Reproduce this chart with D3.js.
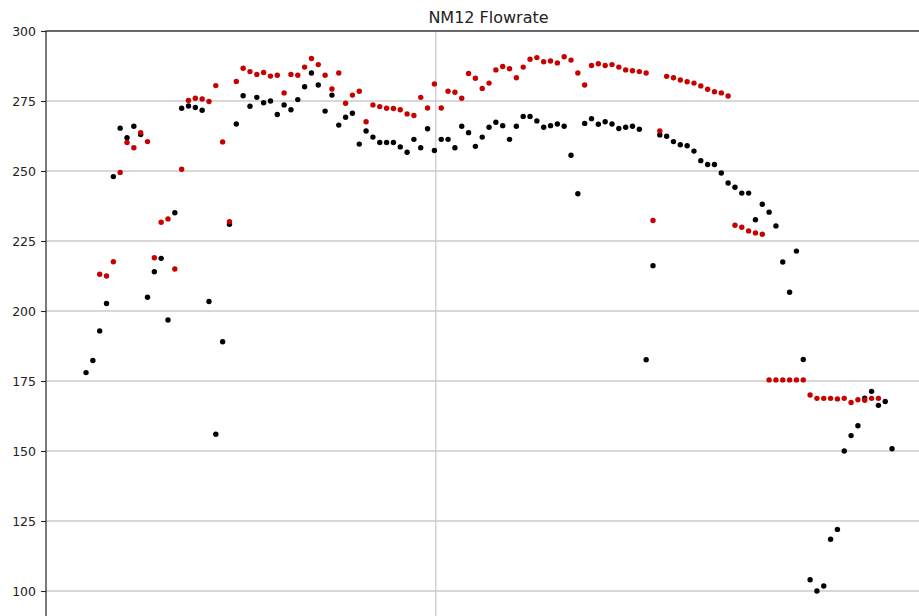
<!DOCTYPE html>
<html>
<head>
<meta charset="utf-8">
<title>NM12 Flowrate</title>
<script src="https://cdn.jsdelivr.net/npm/d3@7"></script>
<style>
    body { margin: 0; background: #fff; }
    svg { display: block; font-family: "DejaVu Sans", sans-serif; }
</style>
</head>
<body>
<div id="chart"></div>
<script>
'use strict';

// sample index of each reading (one point per step)
const samples = d3.range(119);

// black series
const flowA = [
    178.0, 182.3, 192.9, 202.7, 248.0, 265.3, 261.9, 266.0, 263.0, 204.9,
    214.0, 218.8, 196.8, 235.1, 272.4, 273.2, 272.7, 271.7, 203.4, 156.0,
    189.0, 231.0, 266.8, 276.9, 273.1, 276.3, 274.4, 275.0, 270.2, 273.6,
    271.9, 275.5, 280.1, 285.0, 280.7, 271.4, 277.1, 266.4, 269.2, 270.6,
    259.6, 264.3, 262.1, 260.2, 260.2, 260.2, 258.6, 256.7, 261.3, 258.3,
    265.1, 257.3, 261.3, 261.3, 258.3, 266.0, 263.7, 258.8, 262.1, 265.6,
    267.4, 266.2, 261.3, 266.0, 269.5, 269.5, 267.9, 265.6, 266.2, 266.8,
    266.0, 255.6, 241.9, 267.0, 268.7, 266.7, 267.6, 266.8, 265.2, 265.6,
    266.0, 264.9, 182.6, 216.2, 262.9, 262.4, 260.5, 259.4, 259.0, 257.1,
    253.7, 252.3, 252.3, 249.3, 245.7, 244.2, 242.1, 242.1, 232.6, 238.1,
    235.3, 230.4, 217.5, 206.7, 221.4, 182.7, 104.0, 100.0, 101.8, 118.5,
    122.0, 150.0, 155.5, 159.0, 168.9, 171.3, 166.3, 167.7, 150.8
];

// red series (null = no reading)
const flowB = [
    null,  null,  213.1, 212.5, 217.6, 249.5, 260.2, 258.3, 263.7, 260.5,
    219.0, 231.7, 232.9, 215.0, 250.6, 275.2, 276.0, 275.7, 274.8, 280.5,
    260.4, 231.9, 282.0, 286.7, 285.5, 284.5, 285.2, 283.9, 284.2, 277.9,
    284.5, 284.2, 287.1, 290.2, 288.0, 284.2, 279.3, 285.0, 274.2, 277.1,
    278.5, 267.6, 273.6, 273.0, 272.4, 272.3, 271.9, 270.4, 269.8, 276.3,
    272.5, 281.1, 272.5, 278.5, 278.1, 276.0, 284.8, 283.1, 279.5, 281.4,
    286.1, 287.3, 286.5, 283.3, 287.1, 289.9, 290.5, 289.0, 289.3, 288.6,
    290.8, 289.6, 285.0, 280.7, 287.7, 288.3, 287.7, 288.0, 287.1, 286.1,
    285.8, 285.5, 285.0, 232.3, 264.3, 283.8, 283.3, 282.5, 281.9, 281.4,
    280.4, 279.2, 278.3, 277.9, 276.8, 230.6, 229.9, 228.6, 227.9, 227.4,
    175.4, 175.4, 175.4, 175.4, 175.4, 175.4, 170.0, 168.8, 168.8, 168.8,
    168.6, 168.8, 167.3, 168.3, 168.1, 168.8, 168.8, null,  null
];

const yTicks = [100, 125, 150, 175, 200, 225, 250, 275, 300];
const xGridTicks = [51.2];

const width = 919;
const height = 616;

// plot box runs past the right and bottom edges of the picture
const plot = { left: 46, top: 31, right: 931, bottom: 640 };

const svg = d3.select('#chart')
    .append('svg')
    .attr('width', width)
    .attr('height', height);

const x = d3.scaleLinear()
    .domain([-5.86, 123.7])
    .range([plot.left, plot.right]);

const y = d3.scaleLinear()
    .domain([300 - (plot.bottom - plot.top) / 2.8, 300])
    .range([plot.bottom, plot.top]);

// grid lines
svg.append('g')
    .selectAll('line')
    .data(yTicks)
    .join('line')
    .attr('x1', plot.left)
    .attr('x2', plot.right)
    .attr('y1', d => y(d))
    .attr('y2', d => y(d))
    .attr('stroke', '#cbcbcb')
    .attr('stroke-width', 1.3);

svg.append('g')
    .selectAll('line')
    .data(xGridTicks)
    .join('line')
    .attr('x1', d => x(d))
    .attr('x2', d => x(d))
    .attr('y1', plot.top)
    .attr('y2', plot.bottom)
    .attr('stroke', '#cbcbcb')
    .attr('stroke-width', 1.3);

// y axis
const yAxis = svg.append('g')
    .attr('transform', `translate(${plot.left},0)`)
    .call(d3.axisLeft(y).tickValues(yTicks).tickSize(5).tickPadding(5));
yAxis.select('.domain').remove();
yAxis.selectAll('text')
    .attr('font-size', 12.5)
    .attr('font-family', 'DejaVu Sans')
    .attr('fill', '#222');
yAxis.selectAll('line').attr('stroke', '#222').attr('stroke-width', 1.1);

// frame (top and left spines visible)
svg.append('rect')
    .attr('x', plot.left)
    .attr('y', plot.top)
    .attr('width', plot.right - plot.left)
    .attr('height', plot.bottom - plot.top)
    .attr('fill', 'none')
    .attr('stroke', '#222')
    .attr('stroke-width', 1.2);

// points: black first, red on top
const series = [
    { values: flowA, color: '#000000' },
    { values: flowB, color: '#c80000' }
];

series.forEach(s => {
    svg.append('g')
        .selectAll('circle')
        .data(samples.filter(i => s.values[i] !== null))
        .join('circle')
        .attr('cx', i => x(i))
        .attr('cy', i => y(s.values[i]))
        .attr('r', 2.7)
        .attr('fill', s.color);
});

// title
svg.append('text')
    .attr('x', (plot.left + plot.right) / 2)
    .attr('y', 23)
    .attr('text-anchor', 'middle')
    .attr('font-size', 16)
    .attr('fill', '#222')
    .text('NM12 Flowrate');
</script>
</body>
</html>
